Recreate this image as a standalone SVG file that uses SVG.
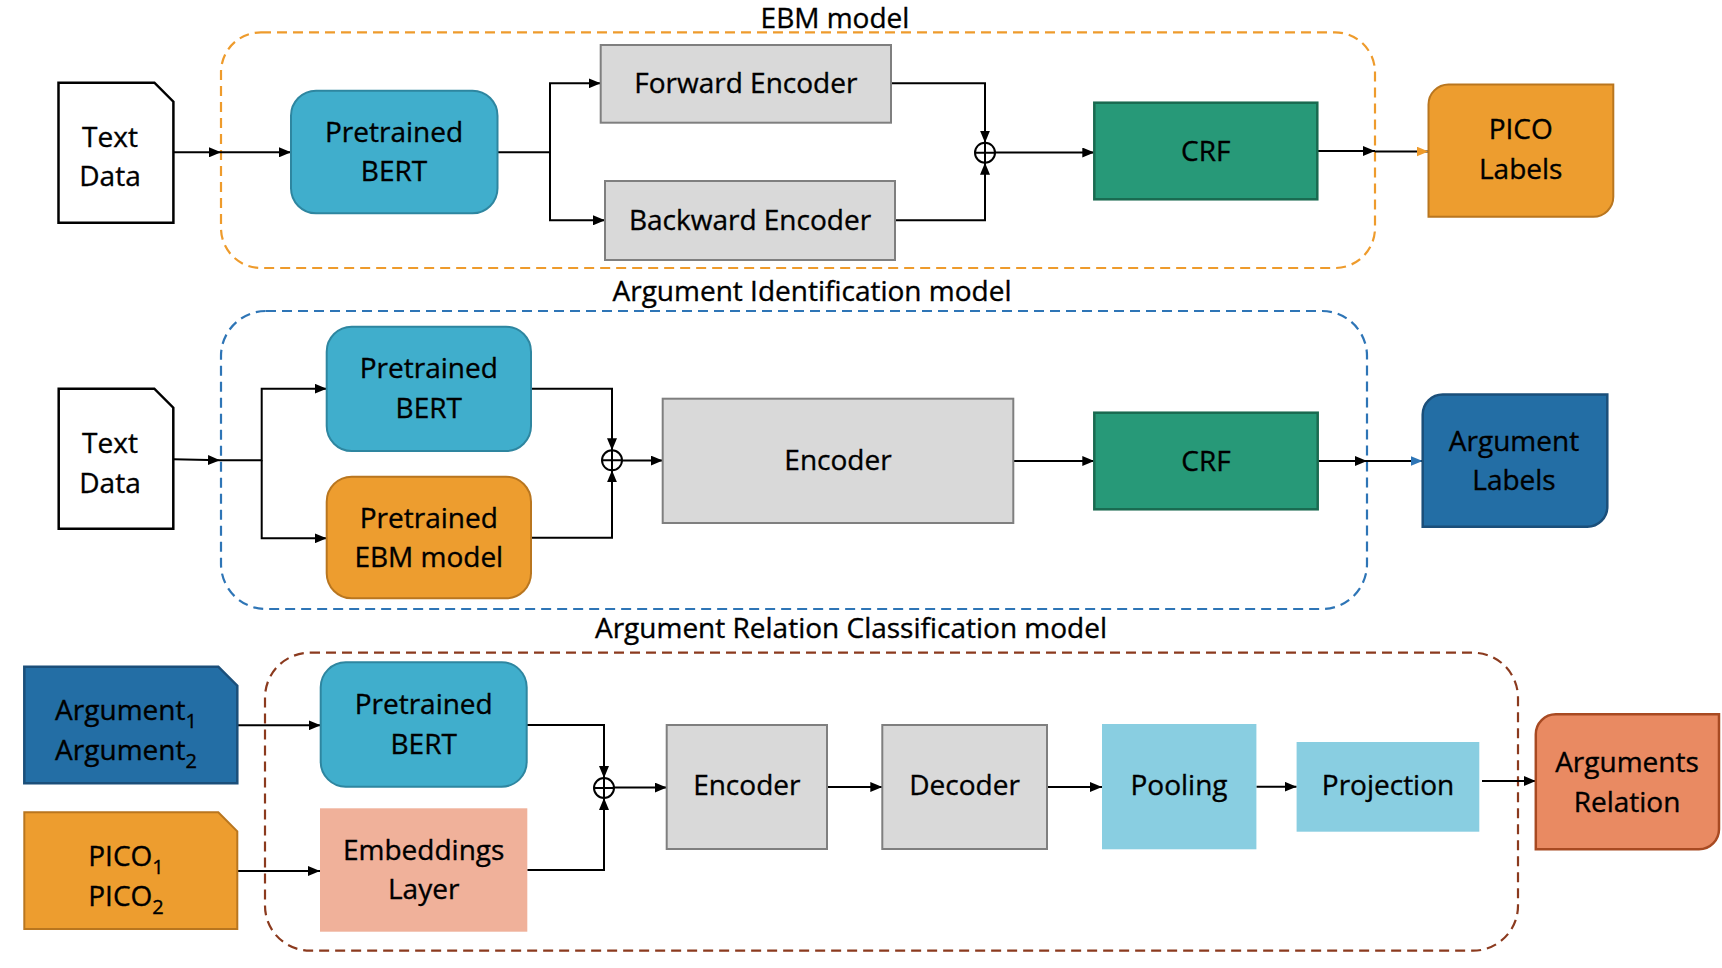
<svg xmlns="http://www.w3.org/2000/svg" width="1722" height="968" viewBox="0 0 1722 968">
<defs>
<style>
text{font-family:"Open Sans",Lato,"Liberation Sans",sans-serif;font-size:28px;fill:#000;stroke:#000;stroke-width:0.35;text-anchor:middle}
.sub{font-size:20px}
.frame{fill:none;stroke-width:2.2;stroke-dasharray:10 6}
.doc{fill:#fff;stroke:#000;stroke-width:2.5}
.bert{fill:#40AECC;stroke:#2E86A0;stroke-width:2}
.orng{fill:#ED9D2F;stroke:#B9761F;stroke-width:2}
.gray{fill:#D9D9D9;stroke:#7F7F7F;stroke-width:2}
.crf{fill:#279978;stroke:#1A6A50;stroke-width:2.5}
.dblue{fill:#236EA5;stroke:#1B4F7A;stroke-width:2.5}
.line{fill:none;stroke:#000;stroke-width:2}
.plus{fill:#fff;stroke:#000;stroke-width:2}
</style>
<marker id="ab" markerUnits="userSpaceOnUse" markerWidth="13" markerHeight="10" refX="12" refY="5" orient="auto"><path d="M0,0 L12,5 L0,10 z" fill="#000"/></marker>
<marker id="ao" markerUnits="userSpaceOnUse" markerWidth="13" markerHeight="10" refX="12" refY="5" orient="auto"><path d="M0,0 L12,5 L0,10 z" fill="#EE9B2C"/></marker>
<marker id="al" markerUnits="userSpaceOnUse" markerWidth="13" markerHeight="10" refX="12" refY="5" orient="auto"><path d="M0,0 L12,5 L0,10 z" fill="#2E75B6"/></marker>
</defs>
<rect width="1722" height="968" fill="#fff"/>

<g id="frames">
<rect class="frame" x="221" y="32.3" width="1154" height="235.7" rx="40" stroke="#EE9B2C"/>
<rect class="frame" x="221" y="311" width="1146" height="298" rx="45" stroke="#2E75B6"/>
<rect class="frame" x="265" y="652.7" width="1253" height="298" rx="45" stroke="#8B3A1E"/>
<text x="835" y="28">EBM model</text>
<text x="812" y="300.7">Argument Identification model</text>
<text x="851" y="638.3">Argument Relation Classification model</text>
</g>

<g id="connectors">
<path class="line" d="M173.4,152.3 H221" marker-end="url(#ab)"/>
<path class="line" d="M221,152.3 H291" marker-end="url(#ab)"/>
<path class="line" d="M497.5,152.3 H550 V83.3 H600.7" marker-end="url(#ab)" stroke-width="2.5"/>
<path class="line" d="M550,152.3 V220.3 H605" marker-end="url(#ab)"/>
<path class="line" d="M891,83.3 H985 V142.7" marker-end="url(#ab)"/>
<path class="line" d="M895,220.3 H985 V162.7" marker-end="url(#ab)"/>
<path class="line" d="M995,152.5 H1094.3" marker-end="url(#ab)"/>
<path class="line" d="M1317.3,151 H1375" marker-end="url(#ab)"/>
<path class="line" d="M1375,151.5 H1428.5" stroke="#EE9B2C" marker-end="url(#ao)"/>
<path class="line" d="M173.3,459.3 L220,460.3" marker-end="url(#ab)"/>
<path class="line" d="M220,460.3 H261.7 V388.7 H326.7" marker-end="url(#ab)"/>
<path class="line" d="M261.7,460.3 V538.3 H326.7" marker-end="url(#ab)"/>
<path class="line" d="M531,388.7 H612 V450.3" marker-end="url(#ab)"/>
<path class="line" d="M531,537.7 H612 V470.3" marker-end="url(#ab)"/>
<path class="line" d="M622,460.5 H662.7" marker-end="url(#ab)"/>
<path class="line" d="M1013.3,461 H1094.3" marker-end="url(#ab)"/>
<path class="line" d="M1317.7,461 H1367" marker-end="url(#ab)"/>
<path class="line" d="M1367,461 H1422.7" stroke="#2E75B6" marker-end="url(#al)"/>
<path class="line" d="M237.3,725.3 H320.7" marker-end="url(#ab)"/>
<path class="line" d="M237.3,871 H320" marker-end="url(#ab)"/>
<path class="line" d="M526.7,725 H604 V778" marker-end="url(#ab)"/>
<path class="line" d="M527.3,870 H604 V798" marker-end="url(#ab)"/>
<path class="line" d="M614,787.5 H666.7" marker-end="url(#ab)"/>
<path class="line" d="M827,787 H882.3" marker-end="url(#ab)"/>
<path class="line" d="M1047,787 H1102" marker-end="url(#ab)"/>
<path class="line" d="M1256.4,786.7 H1296.6" marker-end="url(#ab)"/>
<path class="line" d="M1482,781 H1535.8" marker-end="url(#ab)"/>
</g>

<g id="text-data-1">
<path class="doc" d="M58.5,82.7 H154.4 L173.4,101.7 V222.7 H58.5 Z"/>
<text x="110" y="146.7">Text</text>
<text x="110" y="186">Data</text>
</g>
<g id="bert-1">
<rect class="bert" x="291" y="90.7" width="206.5" height="122.6" rx="25"/>
<text x="394" y="141.7">Pretrained</text>
<text x="394" y="181">BERT</text>
</g>
<g id="forward-encoder">
<rect class="gray" x="600.7" y="45" width="290.3" height="77.7"/>
<text x="745.8" y="92.7">Forward Encoder</text>
</g>
<g id="backward-encoder">
<rect class="gray" x="605" y="181" width="290" height="79"/>
<text x="750" y="230">Backward Encoder</text>
</g>
<g id="sum-1">
<circle class="plus" cx="985" cy="152.7" r="10"/>
<path class="line" d="M975,152.7 H995 M985,142.7 V162.7"/>
</g>
<g id="crf-1">
<rect class="crf" x="1094.3" y="102.7" width="223" height="96.6"/>
<text x="1205.8" y="161">CRF</text>
</g>
<g id="pico-labels">
<path class="orng" d="M1428.5,104.5 A20,20 0 0 1 1448.5,84.5 H1613.3 V196.8 A20,20 0 0 1 1593.3,216.8 H1428.5 Z"/>
<text x="1520.7" y="139.3">PICO</text>
<text x="1520.7" y="178.6">Labels</text>
</g>

<g id="text-data-2">
<path class="doc" d="M58.7,388.7 H154.3 L173.3,407.7 V528.7 H58.7 Z"/>
<text x="110" y="453">Text</text>
<text x="110" y="492.7">Data</text>
</g>
<g id="bert-2">
<rect class="bert" x="326.7" y="326.7" width="204.3" height="124.3" rx="25"/>
<text x="428.8" y="377.7">Pretrained</text>
<text x="428.8" y="417.7">BERT</text>
</g>
<g id="ebm-model">
<rect class="orng" x="326.7" y="476.7" width="204.3" height="121.6" rx="25"/>
<text x="428.8" y="527.7">Pretrained</text>
<text x="428.8" y="567.3">EBM model</text>
</g>
<g id="sum-2">
<circle class="plus" cx="612" cy="460.3" r="10"/>
<path class="line" d="M602,460.3 H622 M612,450.3 V470.3"/>
</g>
<g id="encoder-2">
<rect class="gray" x="662.7" y="398.7" width="350.6" height="124.3"/>
<text x="838" y="470">Encoder</text>
</g>
<g id="crf-2">
<rect class="crf" x="1094.3" y="412.7" width="223.4" height="96.6"/>
<text x="1206" y="470.7">CRF</text>
</g>
<g id="argument-labels">
<path class="dblue" d="M1422.7,414.6 A20,20 0 0 1 1442.7,394.6 H1607.3 V506.8 A20,20 0 0 1 1587.3,526.8 H1422.7 Z"/>
<text x="1514" y="450.7">Argument</text>
<text x="1514" y="490">Labels</text>
</g>

<g id="arguments-doc">
<path class="dblue" d="M24.3,666.7 H218.3 L237.3,685.7 V783.3 H24.3 Z"/>
<text x="126" y="720">Argument<tspan class="sub" dy="8">1</tspan></text>
<text x="126" y="760">Argument<tspan class="sub" dy="8">2</tspan></text>
</g>
<g id="pico-doc">
<path class="orng" d="M24.3,812.3 H218.3 L237.3,831.3 V929 H24.3 Z"/>
<text x="126" y="866">PICO<tspan class="sub" dy="8">1</tspan></text>
<text x="126" y="906">PICO<tspan class="sub" dy="8">2</tspan></text>
</g>
<g id="bert-3">
<rect class="bert" x="320.7" y="662.3" width="206" height="124.4" rx="25"/>
<text x="423.7" y="714.3">Pretrained</text>
<text x="423.7" y="754.3">BERT</text>
</g>
<g id="embeddings-layer">
<rect x="320" y="808.3" width="207.3" height="123.4" fill="#F0B19A"/>
<text x="423.7" y="860">Embeddings</text>
<text x="423.7" y="898.7">Layer</text>
</g>
<g id="sum-3">
<circle class="plus" cx="604" cy="788" r="10"/>
<path class="line" d="M594,788 H614 M604,778 V798"/>
</g>
<g id="encoder-3">
<rect class="gray" x="666.7" y="725" width="160.3" height="124"/>
<text x="746.8" y="795">Encoder</text>
</g>
<g id="decoder">
<rect class="gray" x="882.3" y="725" width="164.7" height="124"/>
<text x="964.6" y="795">Decoder</text>
</g>
<g id="pooling">
<rect x="1102" y="724" width="154.4" height="125.3" fill="#89CEE1"/>
<text x="1179" y="795">Pooling</text>
</g>
<g id="projection">
<rect x="1296.6" y="742" width="182.7" height="89.7" fill="#89CEE1"/>
<text x="1388" y="795">Projection</text>
</g>
<g id="arguments-relation">
<path d="M1535.8,734.3 A20,20 0 0 1 1555.8,714.3 H1719 V829.3 A20,20 0 0 1 1699,849.3 H1535.8 Z" fill="#E98A62" stroke="#A84A22" stroke-width="2.5"/>
<text x="1627" y="771.7">Arguments</text>
<text x="1627" y="811.7">Relation</text>
</g>
</svg>
